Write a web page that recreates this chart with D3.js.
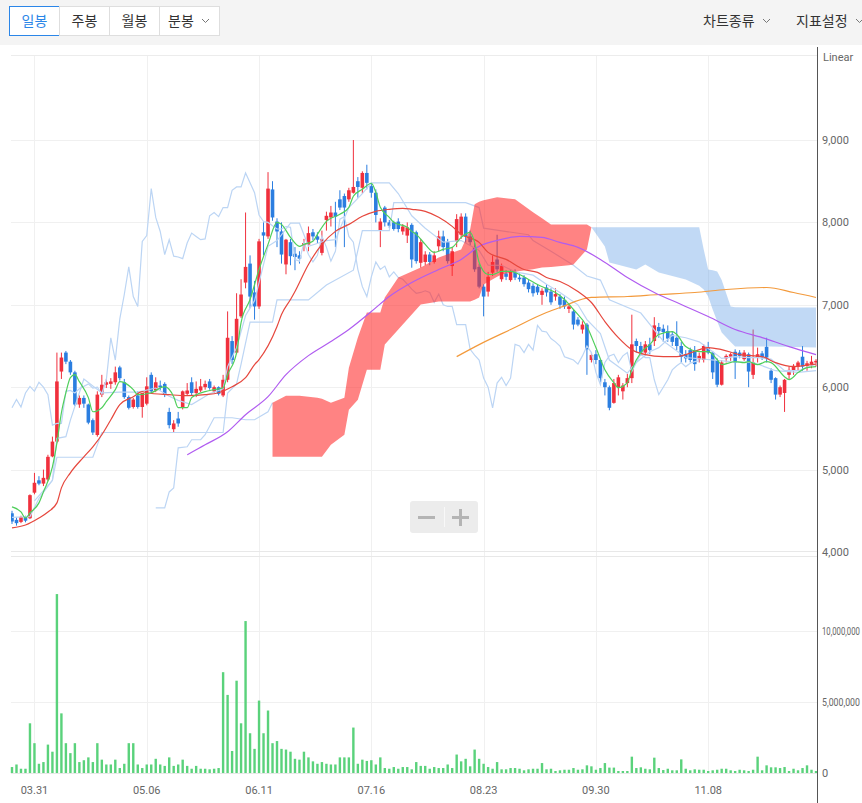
<!DOCTYPE html>
<html><head><meta charset="utf-8">
<script src="https://cdn.jsdelivr.net/npm/d3@7"></script>
<style>
body{margin:0;background:#fff;overflow:hidden}
svg{display:block;font-family:Roboto,"Noto Sans CJK KR",sans-serif}
</style></head><body><svg id="c" width="862" height="803"></svg>
<script>
// ---------- DATA ----------
const tabs = ["일봉","주봉","월봉","분봉"];
const menus = ["차트종류","지표설정"];
const dateTickIdx = [5,30,55,80,105,130,155];
const dateTickLabels = ["03.31","05.06","06.11","07.16","08.23","09.30","11.08"];
const priceTicks = [4000,5000,6000,7000,8000,9000];
const volTicks = [0,5,10];               // millions
const volTickLabels = ["0","5,000,000","10,000,000"];

const opens = [4470,4390,4365,4420,4410,4720,4870,4830,4880,5160,5340,6190,6420,6310,6180,5790,5870,5790,5600,5420,
5910,6030,6040,6060,6240,6060,5880,5760,5900,5760,5800,6150,5960,6020,6040,5700,5490,5620,5750,5920,
6060,5930,5960,6000,6070,5950,6000,5900,6090,6560,6420,6860,7270,7500,7150,6980,7880,7830,8400,8010,
7890,7490,7760,7620,7600,7720,7730,7880,7830,7630,8030,8060,8120,8280,8320,8280,8360,8500,8420,8600,
8440,8360,7900,8180,8000,8000,8010,7890,7840,7970,7880,7510,7520,7610,7520,7710,7830,7760,7470,7770,
7850,8070,7830,7700,7460,7220,7160,7390,7550,7310,7380,7300,7400,7330,7330,7270,7230,7220,7120,7210,
7160,7100,7100,7060,6950,6920,6820,6700,6760,6330,6400,6330,6060,6000,5810,6000,5950,6050,6110,6560,
6500,6420,6520,6560,6730,6710,6680,6640,6600,6500,6400,6450,6440,6340,6330,6480,6420,6330,6030,6350,
6370,6430,6420,6340,6400,6150,6360,6410,6490,6200,6110,5910,5930,6150,6200,6250,6370,6260,6280,6300];
const highs = [4500,4420,4440,4440,4700,4960,4920,5000,5180,5400,6420,6420,6440,6330,6200,5900,5900,5800,5620,5950,
6150,6100,6110,6250,6260,6100,5900,5870,5950,5880,6120,6180,6120,6080,6060,5750,5600,5700,5960,6050,
6120,6070,6100,6080,6100,6020,6010,6150,6920,6620,7140,7310,8120,7600,7290,7800,8000,8610,8500,8050,
8000,7800,7800,7700,7650,7800,7950,7920,7880,7900,8130,8200,8250,8390,8350,8420,9000,8550,8620,8700,
8480,8400,8050,8200,8030,8020,8050,7980,8000,7990,7900,7800,7650,7640,7650,7900,7900,7800,7700,8100,
8110,8110,7900,7750,7500,7250,7400,7600,7850,7500,7420,7420,7430,7380,7360,7300,7260,7250,7200,7250,
7200,7200,7130,7100,7000,6950,6850,6800,6780,6420,6450,6340,6100,6020,6100,6150,6050,6160,6880,6590,
6550,6560,6600,6850,6780,6760,6750,6680,6800,6550,6450,6480,6500,6420,6520,6550,6440,6350,6330,6400,
6420,6460,6450,6450,6420,6700,6480,6440,6600,6230,6120,6020,6100,6250,6280,6320,6500,6320,6380,6340];
const lows = [4340,4320,4350,4360,4400,4700,4810,4800,4860,5150,5320,6100,6280,6150,5770,5750,5750,5550,5420,5400,
5880,5990,5980,6030,6080,5860,5730,5740,5740,5630,5780,5930,5940,5960,5880,5500,5450,5520,5730,5900,
5900,5880,5940,5970,5970,5930,5900,5880,6060,6280,6400,6840,7200,6960,6820,6950,7600,7800,8020,7700,
7500,7370,7480,7420,7500,7650,7650,7780,7750,7600,7900,7950,7700,8150,7700,8250,8350,8300,8350,8400,
8300,8000,7700,7950,7930,7900,7880,7850,7750,7450,7500,7450,7480,7480,7500,7650,7650,7500,7350,7700,
7800,7750,7720,7400,7200,6860,7100,7350,7400,7280,7300,7280,7300,7280,7220,7150,7100,7120,7000,7100,
7000,7050,6950,6950,6900,6700,6740,6650,6150,6300,6280,6050,5900,5720,5800,5900,5850,6000,6050,6420,
6380,6400,6400,6500,6600,6550,6550,6500,6450,6300,6300,6300,6200,6300,6300,6400,6100,6000,6020,6300,
6320,6100,6350,6320,6000,6100,6300,6330,6300,6050,5850,5880,5700,6100,6150,6200,6200,6200,6230,6250];
const closes = [4370,4350,4425,4380,4690,4840,4830,4900,5155,5340,6070,6360,6310,6180,5790,5870,5800,5570,5450,5910,
6030,6060,6070,6180,6110,5880,5750,5850,5760,5930,6010,5950,6060,6000,5910,5540,5560,5560,5950,5960,
5930,5980,6010,6040,5990,6000,5920,6090,6600,6330,6830,7125,7460,7100,6980,7770,7840,8410,8060,7890,
7610,7790,7590,7580,7560,7750,7870,7830,7790,7800,8080,8120,8070,8180,8180,8390,8430,8430,8600,8480,
8360,8090,8010,8000,7960,7920,7920,7950,7940,7550,7530,7760,7610,7520,7600,7830,7700,7530,7650,8040,
8070,7830,7760,7430,7220,7100,7340,7520,7430,7470,7340,7400,7330,7310,7250,7190,7140,7150,7170,7150,
7030,7130,7000,6980,6980,6760,6760,6760,6460,6390,6330,6110,6000,5750,6050,6120,6020,6110,6520,6500,
6420,6520,6450,6750,6680,6670,6590,6550,6500,6370,6350,6330,6280,6380,6500,6420,6180,6030,6300,6380,
6400,6300,6380,6420,6190,6300,6400,6360,6360,6090,5910,6000,6090,6210,6260,6300,6250,6290,6310,6320];
const volumes = [0.42,0.6,0.3,0.3,3.5,2.1,0.65,0.77,2.0,1.5,
12.6,4.2,2.1,1.4,2.1,0.77,0.9,1.1,0.77,2.1,
0.94,0.6,0.6,0.94,0.35,0.65,2.1,2.1,0.6,0.35,
0.6,0.6,1.0,0.6,0.5,1.1,0.5,0.6,0.94,0.5,
0.3,0.5,0.3,0.3,0.26,0.3,0.35,7.1,5.5,1.55,
6.5,3.5,10.7,2.8,1.7,5.1,2.8,4.4,2.1,2.25,
1.7,1.65,1.5,1.0,0.94,1.5,1.1,0.82,0.65,0.77,
0.65,0.6,0.6,1.1,1.1,1.1,3.2,0.65,0.94,0.85,
0.9,0.6,1.1,0.35,0.3,0.42,0.3,0.42,0.42,0.26,
0.77,0.5,0.5,0.3,0.42,0.35,0.35,0.6,0.35,1.3,
0.82,1.0,0.47,1.65,1.0,0.65,0.42,0.3,0.77,0.26,
0.26,0.35,0.35,0.3,0.19,0.26,0.3,0.3,0.7,0.26,
0.3,0.14,0.19,0.23,0.23,0.35,0.23,0.26,0.54,0.47,
0.23,0.35,0.7,0.38,0.38,0.14,0.14,0.14,1.15,0.35,
0.4,0.3,0.26,1.08,0.35,0.21,0.3,0.19,0.19,0.96,
0.3,0.19,0.26,0.23,0.23,0.14,0.19,0.23,0.3,0.3,
0.19,0.14,0.23,0.19,0.14,0.23,1.15,0.19,0.54,0.4,
0.4,0.35,0.42,0.14,0.3,0.19,0.35,0.54,0.23,0.14];

// moving averages: [barIndex, price]
const ma5 = [[0,4547],[2,4486],[3,4413],[4,4474],[6,4596],[7,4730],[9,5034],[10,5325],[11,5690],[12,5933],[13,6116],[14,6152],[15,6067],[17,5873],[18,5702],[20,5751],[21,5824],[23,5970],[24,6067],[25,6055],[27,5970],[28,5909],[31,5933],[34,6006],[36,5885],[37,5751],[39,5751],[40,5873],[43,5946],[45,5970],[47,5994],[48,6152],[50,6420],[51,6785],[53,7064],[55,7429],[57,7733],[59,8001],[60,7976],[62,7818],[64,7709],[65,7733],[67,7770],[68,7855],[70,8013],[73,8098],[75,8183],[76,8317],[78,8402],[80,8475],[81,8365],[82,8183],[84,8062],[85,8001],[88,7940],[89,7891],[90,7855],[92,7733],[94,7636],[96,7672],[98,7697],[100,7818],[102,7879],[103,7757],[104,7514],[106,7368],[107,7368],[109,7405],[111,7405],[113,7368],[115,7308],[117,7247],[119,7198],[121,7149],[123,7064],[125,6943],[128,6736],[130,6481],[132,6213],[134,6055],[135,5994],[137,6055],[138,6213],[140,6420],[142,6517],[144,6639],[147,6675],[148,6639],[150,6493],[153,6432],[155,6432],[157,6335],[158,6274],[161,6310],[163,6298],[164,6310],[166,6274],[168,6310],[169,6298],[172,6128],[173,6092],[175,6177],[177,6237],[179,6250]];
const ma20 = [[0,4292],[3,4328],[6,4413],[8,4486],[10,4596],[11,4778],[13,4961],[16,5155],[18,5277],[20,5423],[22,5605],[24,5788],[27,5885],[29,5946],[30,5933],[35,5909],[39,5897],[43,5909],[46,5933],[49,6006],[52,6116],[54,6274],[55,6335],[59,6736],[60,6882],[62,7064],[63,7162],[66,7490],[69,7733],[72,7891],[75,7976],[78,8074],[81,8134],[84,8159],[87,8171],[89,8159],[92,8134],[95,8062],[98,7952],[100,7855],[104,7757],[106,7636],[110,7551],[114,7429],[117,7393],[119,7332],[122,7283],[126,7162],[129,7028],[132,6797],[135,6602],[138,6456],[141,6396],[145,6371],[148,6371],[150,6396],[155,6481],[158,6456],[162,6396],[167,6371],[170,6298],[174,6250],[178,6274],[179,6280]];
const ma60 = [[39,5180],[43,5301],[48,5459],[52,5666],[57,5885],[61,6152],[66,6383],[71,6554],[75,6700],[80,6918],[84,7101],[89,7271],[95,7429],[100,7551],[104,7709],[109,7794],[113,7830],[118,7818],[122,7757],[126,7697],[131,7551],[137,7332],[143,7150],[149,7004],[155,6858],[161,6700],[167,6602],[173,6493],[179,6396]];
const ma120 = [[99,6371],[104,6517],[111,6700],[119,6906],[122,6967],[129,7089],[137,7101],[144,7125],[152,7149],[159,7186],[168,7210],[174,7149],[179,7089]];

// Ichimoku lines
const tenkan = [[0,4420],[4,4430],[6,4650],[9,4870],[10,5380],[12,5400],[13,5600],[16,6100],[20,5930],[24,5940],[28,5940],[32,5990],[35,5890],[37,5840],[40,5790],[44,5920],[47,5980],[48,6250],[50,6480],[52,6870],[54,7050],[57,7710],[59,7780],[62,7990],[64,7990],[66,7710],[70,7780],[72,7790],[75,8180],[78,8350],[80,8480],[84,8480],[86,8350],[89,8080],[92,7930],[96,7760],[100,7780],[104,7660],[106,7480],[109,7480],[112,7400],[116,7360],[119,7250],[122,7150],[126,7000],[128,6820],[131,6650],[133,6330],[137,6170],[139,6300],[142,6430],[144,6480],[147,6630],[150,6600],[153,6550],[156,6430],[158,6350],[161,6370],[164,6360],[166,6360],[169,6340],[172,6200],[175,6200],[179,6280]];
const kijun = [[5,4620],[9,4870],[10,5150],[18,5150],[20,5450],[47,5450],[48,5930],[50,6040],[51,6280],[53,6790],[58,6790],[59,7060],[66,7060],[70,7240],[76,7420],[78,7900],[84,7900],[85,8240],[101,8240],[104,8180],[105,7930],[115,7850],[116,7780],[120,7650],[125,7480],[128,7350],[131,7300],[133,7060],[140,6900],[145,6560],[150,6360],[160,6310],[165,6300],[170,6200],[175,6180],[179,6200]];
const spanALead = [[32,4535],[34,4535],[35,4729],[36,4778],[37,5264],[39,5277],[40,5362],[42,5362],[43,5423],[45,5629],[49,5629],[52,5605],[54,5605],[57,5702],[58,5811]];
const cloudIdx = [58,61,64,68,69,71,74,75,77,79,82,83,86,91,95,100,102,103,104,105,108,109,112,116,118,120,124,125,128,129,132,133,139,141,144,150,153,154,155,156,157,158,160,161,169,179];
const spanA = [5811,5897,5897,5873,5860,5811,5873,6237,6602,6906,6906,7089,7332,7453,7575,7672,7915,8220,8250,8270,8305,8300,8280,8122,8050,7976,7976,7976,7976,7940,7709,7514,7429,7490,7393,7308,7230,7186,7100,6943,6800,6663,6550,6493,6493,6481];
const spanB = [5155,5155,5155,5155,5155,5301,5423,5727,5848,6213,6213,6517,6700,7004,7040,7040,7040,7060,7089,7247,7340,7368,7400,7430,7453,7460,7480,7490,7672,7940,7940,7940,7940,7940,7940,7940,7940,7672,7429,7420,7405,7300,6979,6970,6967,6967];
const chikouShift = 26;

// ---------- DRAW ----------
const W = 862, H = 803;
const svg = d3.select('#c');
const x = d3.scaleLinear().domain([0, closes.length - 1]).range([12, 816]);
const y = d3.scaleLinear().domain([4000, 9000]).range([552, 140]);
const yv = d3.scaleLinear().domain([0, 10]).range([773, 631]);
const plotL = 11, plotR = 817;
const RED = '#f0303d', BLUE = '#2b7ee0';

// toolbar
svg.append('rect').attr('width', W).attr('height', 45).attr('fill', '#f4f4f4');
const tabW = [50, 50, 50, 60];
let tx = 9;
tabs.forEach((t, i) => {
  const g = svg.append('g');
  g.append('rect').attr('x', tx + 0.5).attr('y', 6.5).attr('width', tabW[i]).attr('height', 29)
    .attr('fill', '#fff').attr('stroke', i === 0 ? '#2b86e8' : '#dedede');
  g.append('text').attr('x', i === 3 ? tx + 9 : tx + tabW[i] / 2 + 0.5).attr('y', 26)
    .attr('text-anchor', i === 3 ? 'start' : 'middle').attr('font-size', 14)
    .attr('font-family', '"Noto Sans CJK KR",sans-serif')
    .attr('fill', i === 0 ? '#2b86e8' : '#333').text(t);
  if (i === 3) {
    g.append('path').attr('d', `M${tx + 43},19 l3.5,3.5 l3.5,-3.5`).attr('fill', 'none').attr('stroke', '#777');
  }
  tx += tabW[i];
});
const menuX = [703, 796];
menus.forEach((m, i) => {
  svg.append('text').attr('x', menuX[i]).attr('y', 26).attr('font-size', 14)
    .attr('font-family', '"Noto Sans CJK KR",sans-serif').attr('fill', '#333').text(m);
  svg.append('path').attr('d', `M${menuX[i] + 60},19 l3.5,3.5 l3.5,-3.5`).attr('fill', 'none').attr('stroke', '#777');
});

// grid
const grid = svg.append('g').attr('stroke', '#f0f0f0').attr('shape-rendering', 'crispEdges');
grid.append('line').attr('x1', plotL).attr('x2', plotR).attr('y1', 55.5).attr('y2', 55.5).attr('stroke', '#ececec');
priceTicks.slice(1).forEach(p => grid.append('line').attr('x1', plotL).attr('x2', plotR).attr('y1', Math.round(y(p)) + 0.5).attr('y2', Math.round(y(p)) + 0.5));
volTicks.slice(1).forEach(v => grid.append('line').attr('x1', plotL).attr('x2', plotR).attr('y1', Math.round(yv(v)) + 0.5).attr('y2', Math.round(yv(v)) + 0.5));
dateTickIdx.forEach(d => grid.append('line').attr('x1', Math.round(x(d)) + 0.5).attr('x2', Math.round(x(d)) + 0.5).attr('y1', 56).attr('y2', 773));
grid.append('line').attr('x1', plotL).attr('x2', plotR).attr('y1', 551.5).attr('y2', 551.5).attr('stroke', '#e8e8e8');
grid.append('line').attr('x1', plotL).attr('x2', plotR).attr('y1', 556.5).attr('y2', 556.5).attr('stroke', '#e8e8e8');
grid.append('line').attr('x1', plotL).attr('x2', plotR).attr('y1', 773.5).attr('y2', 773.5).attr('stroke', '#e8e8e8');

// clip for plot
svg.append('clipPath').attr('id', 'pc').append('rect').attr('x', plotL).attr('y', 56).attr('width', plotR - plotL).attr('height', 495);
const plot = svg.append('g').attr('clip-path', 'url(#pc)');

// candles
const cg = plot.append('g');
closes.forEach((c, i) => {
  const o = opens[i], col = c >= o ? RED : BLUE;
  cg.append('line').attr('x1', x(i)).attr('x2', x(i)).attr('y1', y(highs[i])).attr('y2', y(lows[i]))
    .attr('stroke', col).attr('stroke-width', 1);
  const top = y(Math.max(o, c)), bot = y(Math.min(o, c));
  cg.append('rect').attr('x', x(i) - 1.8).attr('width', 3.6).attr('y', top).attr('height', Math.max(1, bot - top)).attr('fill', col);
});

// ichimoku thin lines
const ln = d3.line().x(d => x(d[0])).y(d => y(d[1]));
const ichi = plot.append('g').attr('fill', 'none').attr('stroke', '#bcd5f4').attr('stroke-width', 1.2);
ichi.append('path').attr('d', ln(tenkan));
ichi.append('path').attr('d', ln(kijun));
ichi.append('path').attr('d', ln(closes.slice(chikouShift).map((c, i) => [i, c])));
ichi.append('path').attr('d', ln(spanALead));

// cloud
const cloud = cloudIdx.map((i, k) => ({ i, a: spanA[k], b: spanB[k] }));
plot.append('path').datum(cloud)
  .attr('d', d3.area().defined(d => d.a >= d.b).x(d => x(d.i)).y0(d => y(d.b)).y1(d => y(d.a)))
  .attr('fill', '#ff2a2a').attr('fill-opacity', 0.58);
plot.append('path').datum(cloud)
  .attr('d', d3.area().defined(d => d.b >= d.a).x(d => x(d.i)).y0(d => y(d.a)).y1(d => y(d.b)))
  .attr('fill', '#5b9ae6').attr('fill-opacity', 0.38);

// moving averages
const mline = d3.line().x(d => x(d[0])).y(d => y(d[1])).curve(d3.curveMonotoneX);
[[ma120, '#f39a3c'], [ma60, '#b05cf0'], [ma20, '#e6473d'], [ma5, '#4fcf5b']].forEach(([d, c]) => {
  plot.append('path').attr('d', mline(d)).attr('fill', 'none').attr('stroke', c).attr('stroke-width', 1.2);
});

// volume
const vg = svg.append('g').attr('fill', '#5ad27b');
volumes.forEach((v, i) => {
  vg.append('rect').attr('x', x(i) - 1.2).attr('width', 2.4).attr('y', yv(v)).attr('height', yv(0) - yv(v));
});

// zoom control
svg.append('rect').attr('x', 410).attr('y', 501).attr('width', 68).attr('height', 32).attr('rx', 3).attr('fill', '#ececec');
svg.append('line').attr('x1', 418).attr('x2', 435).attr('y1', 517.5).attr('y2', 517.5).attr('stroke', '#b4b4b4').attr('stroke-width', 3);
svg.append('line').attr('x1', 444.5).attr('x2', 444.5).attr('y1', 507).attr('y2', 527).attr('stroke', '#f8f8f8');
svg.append('line').attr('x1', 452).attr('x2', 469).attr('y1', 517.5).attr('y2', 517.5).attr('stroke', '#b4b4b4').attr('stroke-width', 3);
svg.append('line').attr('x1', 460.5).attr('x2', 460.5).attr('y1', 509).attr('y2', 526).attr('stroke', '#b4b4b4').attr('stroke-width', 3);

// right axis
svg.append('line').attr('x1', plotR + 0.5).attr('x2', plotR + 0.5).attr('y1', 47).attr('y2', H).attr('stroke', '#555');
const ax = svg.append('g').attr('font-size', 11).attr('fill', '#666');
ax.append('text').attr('x', 823).attr('y', 61).text('Linear');
priceTicks.forEach(p => ax.append('text').attr('x', 822).attr('y', y(p) + 4).text(d3.format(',')(p)));
volTicks.forEach((v, k) => {
  const g = ax.append('g').attr('transform', `translate(822,${yv(v) + 4})`);
  const t = g.append('text').text(volTickLabels[k]);
  const len = t.node().getComputedTextLength();
  const room = W - 822 - 2;
  if (len > room) g.attr('transform', `translate(822,${yv(v) + 4}) scale(${room / len},1)`);
});
dateTickIdx.forEach((d, k) => ax.append('text').attr('x', x(d)).attr('y', 794).attr('text-anchor', 'middle').text(dateTickLabels[k]));
</script></body></html>
